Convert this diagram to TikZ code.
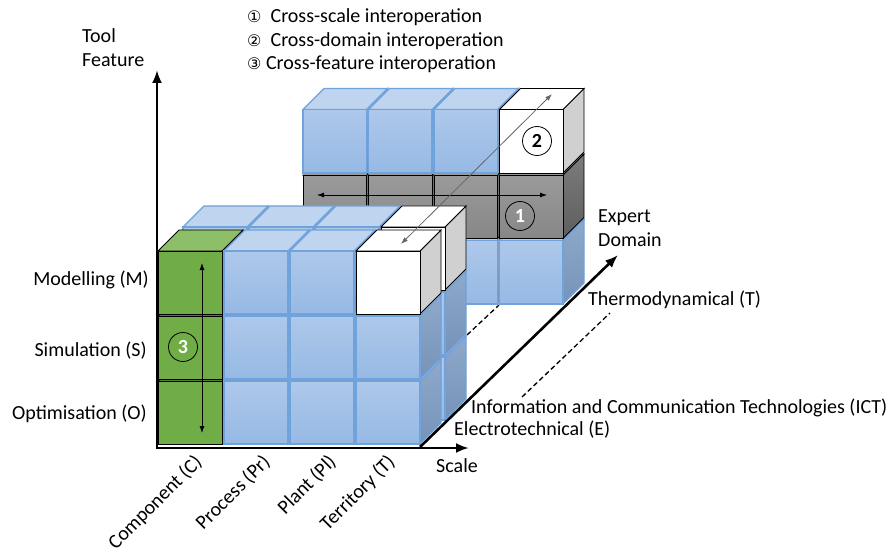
\documentclass[tikz,border=0pt]{standalone}
\usepackage{fontspec}
\setmainfont{Carlito}
\newfontfamily\symfont{DejaVu Sans}
\usetikzlibrary{arrows.meta}

\definecolor{cubeblue}{HTML}{70A2DC}
\definecolor{blueA}{HTML}{AEC8EA}
\definecolor{blueB}{HTML}{96B9E4}
\definecolor{bluetopc}{HTML}{BFD4EF}
\definecolor{bluesideA}{HTML}{8EA9CA}
\definecolor{bluesideB}{HTML}{7693B8}
\definecolor{greenfc}{HTML}{70AD47}
\definecolor{greentc}{HTML}{8DBF69}
\definecolor{grayA}{HTML}{9A9A9A}
\definecolor{grayB}{HTML}{878787}
\definecolor{graysideA}{HTML}{7C7C7C}
\definecolor{graysideB}{HTML}{5E5E5E}
\definecolor{whitesidec}{HTML}{D0D0D0}

% one cube: front bottom-left (#1,#2), width #3, height #4, colour set #5
\newcommand{\drawcube}[5]{%
  \path[#5side] (#1+#3-1,#2-1) -- ++(21,-21) -- ++(0,-#4+2) -- ++(-21,21) -- cycle;
  \path[#5top] (#1+1,#2-#4+1) -- ++(#3-2,0) -- ++(21,-21) -- ++(-#3+2,0) -- cycle;
  \path[#5front] (#1+1,#2-1) rectangle ++(#3-2,-#4+2);
}

\begin{document}
\begin{tikzpicture}[x=1pt,y=-1pt,font=\fontsize{20}{24}\selectfont]
\tikzstyle{every node}+=[inner sep=0pt]
\tikzstyle{bluefront}=[draw=cubeblue,line width=1.2,top color=blueA,bottom color=blueB]
\tikzstyle{bluetop}=[draw=cubeblue,line width=1.2,fill=bluetopc]
\tikzstyle{blueside}=[draw=cubeblue,line width=1.2,top color=bluesideA,bottom color=bluesideB]
\tikzstyle{greenfront}=[draw=black,line width=0.9,fill=greenfc]
\tikzstyle{greentop}=[draw=black,line width=0.9,fill=greentc]
\tikzstyle{greenside}=[draw=black,line width=0.9,fill=greenfc!80!black]
\tikzstyle{grayfront}=[draw=black,line width=0.9,top color=grayA,bottom color=grayB]
\tikzstyle{graytop}=[draw=black,line width=0.9,fill=grayA]
\tikzstyle{grayside}=[draw=black,line width=0.9,top color=graysideA,bottom color=graysideB]
\tikzstyle{whitefront}=[draw=black,line width=0.9,fill=white]
\tikzstyle{whitetop}=[draw=black,line width=0.9,fill=white]
\tikzstyle{whiteside}=[draw=black,line width=0.9,fill=whitesidec]
\tikzstyle{thinarrow}=[line width=0.8,{Latex[length=7pt,width=5pt]}-{Latex[length=7pt,width=5pt]}]
\tikzstyle{axisarrow}=[line width=2.6,-{Latex[length=13pt,width=10pt]}]
\tikzstyle{numcircle}=[draw,circle,line width=0.8,minimum size=29pt,font=\fontsize{20}{24}\selectfont\bfseries]
\tikzstyle{dashline}=[line width=1.3,dash pattern=on 5pt off 3pt]
\useasboundingbox (0,0) rectangle (893,553);

% back block (Thermodynamical)
\foreach \x in {302,367.5,433,498.5} \drawcube{\x}{305}{65.5}{65.5}{blue};
\foreach \x in {302,367.5,433,498.5} \drawcube{\x}{239.5}{65.5}{65.5}{gray};
\foreach \x in {302,367.5,433} \drawcube{\x}{174}{65.5}{65.5}{blue};
\drawcube{498.5}{174}{65.5}{65.5}{white}

\draw[dashline] (467,335) -- (499,305);
\draw[dashline] (522,397) -- (610,313);

% front block, rear layer
\foreach \y in {421,356} \foreach \x in {182,248,314,380} \drawcube{\x}{\y}{66}{65}{blue};
\foreach \x in {182,248,314} \drawcube{\x}{291}{66}{65}{blue};
\drawcube{380}{291}{66}{65}{white}

% front block, front layer
\foreach \y in {445,380} {
  \drawcube{157}{\y}{66}{65}{green}
  \foreach \x in {223,289,355} \drawcube{\x}{\y}{66}{65}{blue};
}
\drawcube{157}{315}{66}{65}{green}
\drawcube{223}{315}{66}{65}{blue}
\drawcube{289}{315}{66}{65}{blue}
\drawcube{355}{315}{66}{65}{white}

% axes
\coordinate (origin) at (157,448);
\coordinate (featuretip) at (157,70);
\coordinate (scaletip) at (469,448);
\coordinate (domainfoot) at (420,447);
\coordinate (domaintip) at (618,255);
\draw[axisarrow] (157,449.3) -- (featuretip);
\draw[axisarrow] (155.7,448) -- (scaletip);
\draw[axisarrow] (domainfoot) -- (domaintip);

% interoperation arrows
\coordinate (scaleleft) at (317,195);
\coordinate (scaleright) at (547,195);
\coordinate (domainup) at (552,94);
\coordinate (domaindown) at (401,244);
\coordinate (featureup) at (202,263);
\coordinate (featuredown) at (202,433);
\draw[thinarrow] (scaleleft) -- (scaleright);
\draw[thinarrow,draw=black!60] (domaindown) -- (domainup);
\draw[thinarrow] (featureup) -- (featuredown);

\node[numcircle,text=white] (one) at (520,216) {1};
\node[numcircle,fill=white] (two) at (537,141) {2};
\node[numcircle,text=white] (three) at (183,347) {3};

% labels
\node[anchor=west,align=left] (featurelab) at (82,48) {Tool\\Feature};
\node[anchor=west,align=left] (domainlab) at (598,228) {Expert\\Domain};
\node[anchor=east] (modlab) at (149,280) {Modelling (M)};
\node[anchor=east] (simlab) at (147,351) {Simulation (S)};
\node[anchor=east] (optlab) at (147,414) {Optimisation (O)};
\node[anchor=west] (thermolab) at (588,300) {Thermodynamical (T)};
\node[anchor=west] (ictlab) at (471,408) {Information and Communication Technologies (ICT)};
\node[anchor=west] (electrolab) at (454,430) {Electrotechnical (E)};
\node (scalelab) at (457,466) {Scale};
\node[anchor=east,rotate=45] (complab) at (199,459) {Component (C)};
\node[anchor=east,rotate=45] (proclab) at (267,459) {Process (Pr)};
\node[anchor=east,rotate=45] (plantlab) at (333,459) {Plant (Pl)};
\node[anchor=east,rotate=45] (terrlab) at (392,459) {Territory (T)};

% legend
\node[anchor=west] (leg1) at (247,17) {{\symfont\fontsize{16}{20}\selectfont ①}\ \ Cross-scale interoperation};
\node[anchor=west] (leg2) at (247,41) {{\symfont\fontsize{16}{20}\selectfont ②}\ \ Cross-domain interoperation};
\node[anchor=west] (leg3) at (247,64) {{\symfont\fontsize{16}{20}\selectfont ③}\ Cross-feature interoperation};
\end{tikzpicture}
\end{document}
